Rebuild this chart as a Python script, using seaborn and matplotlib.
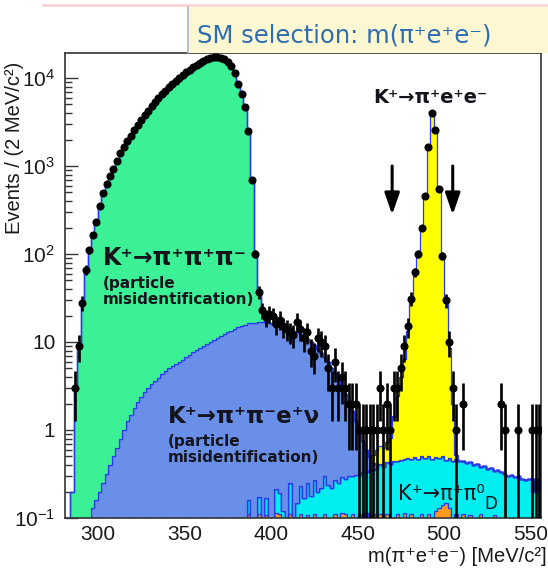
import numpy as np
import pandas as pd
import matplotlib
matplotlib.use("Agg")
import matplotlib.pyplot as plt
import seaborn as sns
from matplotlib.patches import Rectangle
from matplotlib.lines import Line2D
from matplotlib.ticker import (FixedLocator, FixedFormatter, MultipleLocator,
                               LogLocator, NullFormatter)

# ---------------------------------------------------------------- binning
BIN_WIDTH = 2  # MeV/c^2
BIN_RANGE = (282, 556)

# ---------------------------------------------------------------- MC: K+ -> pi+ pi+ pi- (misID), first bin centre 285
k3pi_start = 285
k3pi = [0.2, 3, 9, 28, 66, 110, 165, 230, 350, 490, 620, 760, 930, 1150,
        1400, 1650, 1900, 2200, 2550, 2900, 3300, 3750, 4250, 4750, 5300,
        5900, 6500, 7200, 7900, 8600, 9300, 10000, 10800, 11600, 12400,
        13200, 14000, 14800, 15600, 16300, 16900, 17300, 17300, 17000,
        16300, 15300, 13800, 11500, 8500, 6500, 4700, 2500, 700, 85, 20, 5]

# ---------------------------------------------------------------- MC: K+ -> pi+ pi- e+ nu (misID)
ke4_start = 297
ke4 = [0.13, 0.16, 0.2, 0.25, 0.32, 0.4, 0.5, 0.62, 0.8, 1.0, 1.25, 1.5,
       1.8, 2.1, 2.4, 2.7, 3.0, 3.3, 3.6, 3.9, 4.3, 4.7, 5.0, 5.3, 5.6,
       5.9, 6.3, 6.7, 7.1, 7.6, 8.1, 8.6, 9.1, 9.6, 10.1, 10.6, 11.1, 11.7,
       12.3, 12.9, 13.5, 14.1, 14.7, 15.2, 15.7, 16.1, 16.4, 16.6, 16.7,
       16.7, 16.6, 16.4, 16.1, 15.8, 15.4, 15.0, 14.5, 14.0, 13.4, 12.8,
       12.0, 11.3, 10.5, 9.7, 8.9, 8.1, 7.3, 6.5, 5.7, 4.9, 4.2, 3.5, 2.9,
       2.3, 1.8, 1.35, 0.95, 0.65, 0.42, 0.25, 0.14, 0.07, 0.03]

# ---------------------------------------------------------------- MC: K+ -> pi+ pi0_D
pi0d_start = 379
pi0d = [0.02, 0.01, 0.03, 0.02, 0.05, 0.03, 0.04, 0.06, 0.03, 0.06, 0.08,
        0.05, 0.1, 0.08, 0.12, 0.09, 0.14, 0.1, 0.15, 0.12, 0.17, 0.14,
        0.18, 0.16, 0.2, 0.22, 0.19, 0.24, 0.22, 0.16, 0.25, 0.18, 0.17,
        0.3, 0.19, 0.31, 0.2, 0.33, 0.22, 0.35, 0.24, 0.37, 0.3, 0.38,
        0.32, 0.41, 0.44, 0.33, 0.46, 0.35, 0.48, 0.36, 0.49, 0.47, 0.4,
        0.48, 0.4, 0.47, 0.37, 0.35, 0.36, 0.31, 0.35, 0.45, 0.36, 0.44,
        0.34, 0.42, 0.32, 0.4, 0.41, 0.27, 0.39, 0.36, 0.37, 0.23, 0.35,
        0.33, 0.32, 0.3, 0.31, 0.29, 0.3, 0.28, 0.27, 0.28, 0.2, 0.2, 0.26]

# ---------------------------------------------------------------- MC: other small backgrounds (sparse bins)
other_bins = [387, 393, 397, 403, 405, 411, 417, 421, 425, 431, 437, 441,
              443, 447, 451, 455, 459, 463, 467, 473, 477, 481, 487, 491,
              495, 497, 499, 501, 503, 507, 511, 515, 521, 529]
other_vals = [0.11, 0.112, 0.108, 0.115, 0.11, 0.112, 0.11, 0.108, 0.11,
              0.112, 0.11, 0.115, 0.11, 0.112, 0.11, 0.115, 0.11, 0.11,
              0.112, 0.11, 0.115, 0.11, 0.112, 0.11, 0.12, 0.13, 0.14,
              0.15, 0.13, 0.112, 0.11, 0.108, 0.11, 0.108]
rare_bins = [551, 553]
rare_vals = [0.08, 0.08]

# ---------------------------------------------------------------- MC: signal K+ -> pi+ e+ e-
signal_start = 459
signal = [0.1, 0.2, 0.25, 0.25, 0.3, 0.4, 1.0, 2.0, 3.5, 6, 13, 30, 62,
          100, 200, 460, 1650, 4000, 2570, 550, 95, 30, 8, 1.5, 0.05]

# ---------------------------------------------------------------- data (events per bin), first bin centre 285
data_start = 285
data_counts = [0, 3, 9, 28, 66, 110, 165, 230, 350, 490, 620, 760, 930,
               1150, 1400, 1650, 1900, 2200, 2550, 2900, 3300, 3750, 4250,
               4750, 5300, 5900, 6500, 7200, 7900, 8600, 9300, 10000, 10800,
               11600, 12400, 13200, 14000, 14800, 15600, 16300, 16900,
               17300, 17300, 17000, 16300, 15300, 13800, 11500, 8500, 6500,
               4700, 2500, 700,
               100, 37, 23, 19, 21, 20, 16, 18, 15, 14, 13, 12, 17, 14, 11,
               13, 8, 7, 11, 10, 9, 5, 3, 6, 3, 4, 3, 2, 2, 2, 1, 1, 1, 1,
               1, 1, 3, 1, 2, 1, 3, 3,
               5, 9, 15, 31, 62, 100, 200, 460, 1650, 4000, 2570, 550, 95,
               30, 10, 3, 1, 0, 2, 0, 0, 0, 0, 0, 0, 0, 0, 0, 0, 2, 1, 0, 0,
               0, 1, 0, 0, 0, 1, 1, 1]

arrow_cuts = [470, 505]

# ---------------------------------------------------------------- style
sns.set_style("ticks")
plt.rcParams["font.family"] = ["Liberation Sans", "DejaVu Sans"]
plt.rcParams["mathtext.fontset"] = "custom"
plt.rcParams["mathtext.rm"] = "Liberation Sans"
plt.rcParams["mathtext.it"] = "Liberation Sans:italic"

LABEL_FONT = ["DejaVu Sans"]
OUTLINE = "#2b3bea"
INK = "#14141c"


def expand(start, values):
    return [(start + BIN_WIDTH * i, v) for i, v in enumerate(values)]


processes = {
    "signal": (expand(signal_start, signal), "#ffff00"),
    "k3pi": (expand(k3pi_start, k3pi), "#3cf096"),
    "ke4": (expand(ke4_start, ke4), "#6a8fe8"),
    "rare": (list(zip(rare_bins, rare_vals)), "#1c1c9c"),
    "pi0d": (expand(pi0d_start, pi0d), "#00eef0"),
    "other": (list(zip(other_bins, other_vals)), "#ff9a1c"),
}
rows = []
for name, (pairs, _) in processes.items():
    for m, w in pairs:
        rows.append((float(m), float(w), name))
mc = pd.DataFrame(rows, columns=["m", "events", "process"])
palette = {k: c for k, (_, c) in processes.items()}

fig = plt.figure(figsize=(5.48, 5.69), dpi=100)
ax = fig.add_axes([65 / 548, 51 / 569, 476 / 548, 465 / 569])

# stacked MC (last hue level sits at the bottom of the stack)
sns.histplot(data=mc, x="m", weights="events", hue="process",
             hue_order=list(processes.keys()), palette=palette,
             binwidth=BIN_WIDTH, binrange=BIN_RANGE, multiple="stack",
             element="step", fill=True, alpha=1, edgecolor=OUTLINE,
             linewidth=0.9, legend=False, ax=ax)
ax.set_yscale("log")

# data points with Poisson errors
dm = data_start + BIN_WIDTH * np.arange(len(data_counts))
dc = np.asarray(data_counts, dtype=float)
sel = dc > 0
dm, dc = dm[sel], dc[sel]
err = np.sqrt(dc)
lower = np.minimum(err, dc - 1e-3)
ax.errorbar(dm, dc, yerr=[lower, err], xerr=BIN_WIDTH / 2, fmt="none",
            ecolor="black", elinewidth=1.9, zorder=5)
sns.scatterplot(x=dm, y=dc, color="black", s=34, linewidth=0, zorder=6,
                ax=ax)

# signal-region cuts
for xc in arrow_cuts:
    ax.annotate("", xy=(xc, 280), xytext=(xc, 1000),
                arrowprops=dict(arrowstyle="-|>,head_length=1.3,head_width=0.45",
                                color="black", lw=2.2, mutation_scale=10,
                                shrinkA=0, shrinkB=0), zorder=7)

# axes ranges and ticks
ax.set_xlim(281, 556)
ax.set_ylim(0.1, 1.923e4)
ax.xaxis.set_major_locator(MultipleLocator(50))
ax.xaxis.set_minor_locator(MultipleLocator(10))
ax.yaxis.set_major_locator(FixedLocator([0.1, 1, 10, 100, 1000, 10000]))
ax.yaxis.set_major_formatter(FixedFormatter(
    [r"$\mathdefault{10^{-1}}$", "1", "10", r"$\mathdefault{10^{2}}$",
     r"$\mathdefault{10^{3}}$", r"$\mathdefault{10^{4}}$"]))
ax.yaxis.set_minor_locator(LogLocator(base=10, subs=np.arange(2, 10)))
ax.yaxis.set_minor_formatter(NullFormatter())
ax.tick_params(which="both", direction="in", color="#333333", width=1,
               top=False, right=False, labelsize=15, labelcolor="#1a1a1a")
ax.tick_params(axis="y", pad=7)
ax.tick_params(axis="x", pad=5)
ax.tick_params(which="major", length=9.5)
ax.tick_params(which="minor", length=5)
for sp in ax.spines.values():
    sp.set_visible(True)
    sp.set_color("#333333")
    sp.set_linewidth(1.2)

# axis titles: bounding boxes placed explicitly
ax.set_ylabel("Events / (2 MeV/c²)", fontsize=14.5, color="#1a1a1a")
ax.yaxis.label.set(ha="center", va="center", rotation_mode="default")
ax.yaxis.set_label_coords(-(65 - 14.5) / 476, (518 - 148) / 465)
ax.set_xlabel("m(π⁺e⁺e⁻) [MeV/c²]", fontsize=14.5, color="#1a1a1a")
ax.xaxis.label.set(ha="right", va="top")
ax.xaxis.set_label_coords((547 - 65) / 476, (518 - 547) / 465)

# process labels
ax.text(302.9, 75, "K⁺→π⁺π⁺π⁻", fontsize=17, weight="bold",
        va="baseline", ha="left", family=LABEL_FONT, color=INK)
ax.text(302.9, 56, "(particle\nmisidentification)", fontsize=11,
        weight="bold", va="top", ha="left", linespacing=1.1,
        family=LABEL_FONT, color=INK)
ax.text(340.5, 1.2, "K⁺→π⁺π⁻e⁺ν", fontsize=16.5, weight="bold",
        va="baseline", ha="left", family=LABEL_FONT, color=INK)
ax.text(340.5, 0.9, "(particle\nmisidentification)", fontsize=11,
        weight="bold", va="top", ha="left", linespacing=1.1,
        family=LABEL_FONT, color=INK)
ax.text(491.9, 5200, "K⁺→π⁺e⁺e⁻", fontsize=14, weight="bold",
        va="baseline", ha="center", family=LABEL_FONT, color=INK)
t_pi0 = ax.text(473.4, 0.16, "K⁺→π⁺π⁰", fontsize=15, va="baseline",
                ha="left", family=LABEL_FONT, color=INK, zorder=8)
ax.annotate("D", xy=(1.0, 0.0), xycoords=t_pi0, fontsize=12, va="center",
            ha="left", family=LABEL_FONT, color=INK, zorder=8)

# header box
fig.lines.append(Line2D([43 / 548, 1], [1 - 5 / 569] * 2,
                        transform=fig.transFigure, color="#f6d4d4", lw=2))
fig.patches.append(Rectangle((188 / 548, 1 - 53 / 569), 360 / 548,
                             46 / 569, transform=fig.transFigure,
                             facecolor="#fdf8d2", edgecolor="none",
                             zorder=10))
fig.lines.append(Line2D([188 / 548] * 2, [1 - 53 / 569, 1 - 7 / 569],
                        transform=fig.transFigure, color="#a9b4c8", lw=1.2,
                        zorder=11))
fig.text(197 / 548, 1 - 36 / 569, "SM selection: m(π⁺e⁺e⁻)",
         color="#2f6db3", fontsize=17.5, family=LABEL_FONT, va="center",
         ha="left", zorder=12)

fig.savefig("out.png", dpi=100)
